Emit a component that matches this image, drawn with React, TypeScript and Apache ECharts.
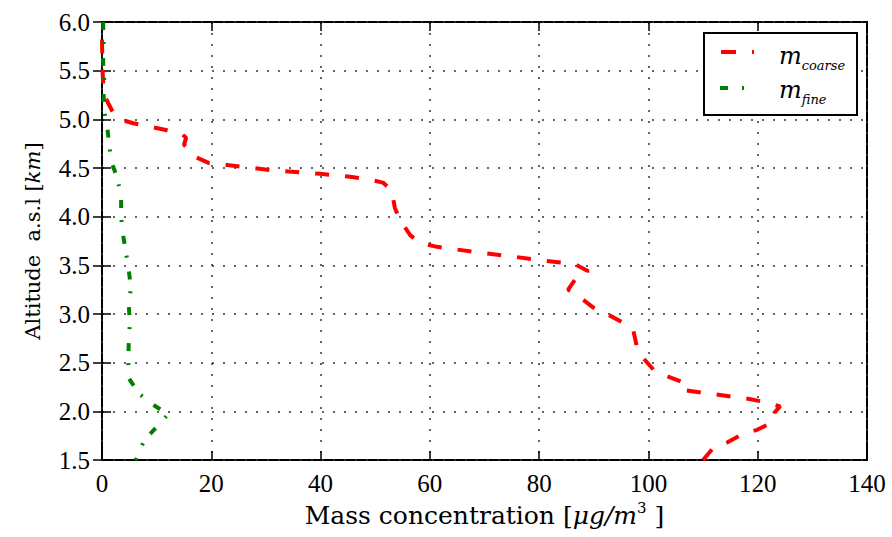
import React, { useEffect, useRef } from "react";
import * as echarts from "echarts";

// m_coarse profile: concentration (µg/m³) vs altitude (km)
const coarseConc = [0.0, 0.1, 0.3, 1.1, 2.2, 3.3, 5.7, 8.4, 11.7, 14.6, 15.4, 15.0, 17.2, 19.6, 22.9, 30.7, 39.9, 45.4, 48.1, 51.4, 53.0, 53.6, 54.5, 56.4, 58.2, 61.3, 69.2, 75.2, 80.7, 86.6, 89.0, 86.9, 85.3, 87.5, 89.8, 92.4, 95.1, 97.2, 97.9, 99.0, 101.2, 103.4, 106.7, 106.3, 110.0, 118.2, 121.7, 124.1, 123.1, 122.8, 119.9, 117.3, 114.4, 111.8, 110.0];
const coarseAlt = [5.82, 5.5, 5.27, 5.17, 5.05, 5.0, 4.96, 4.93, 4.89, 4.85, 4.81, 4.74, 4.61, 4.55, 4.53, 4.48, 4.44, 4.41, 4.39, 4.35, 4.27, 4.09, 3.97, 3.81, 3.73, 3.69, 3.63, 3.59, 3.55, 3.51, 3.44, 3.38, 3.25, 3.17, 3.07, 3.0, 2.92, 2.84, 2.66, 2.55, 2.41, 2.36, 2.29, 2.22, 2.19, 2.13, 2.09, 2.05, 1.99, 1.89, 1.81, 1.77, 1.68, 1.62, 1.5];

// m_fine profile
const fineConc = [0.2, 0.3, 0.2, 0.4, 0.3, 0.5, 1.0, 1.4, 1.8, 2.8, 3.5, 3.5, 3.8, 4.4, 4.9, 5.3, 4.9, 5.1, 4.9, 4.8, 4.9, 6.8, 9.3, 12.1, 10.0, 7.7, 6.2];
const fineAlt = [6.0, 5.8, 5.6, 5.42, 5.25, 5.06, 4.9, 4.7, 4.55, 4.4, 4.2, 4.0, 3.83, 3.63, 3.45, 3.27, 3.09, 2.91, 2.71, 2.53, 2.34, 2.18, 2.07, 1.97, 1.84, 1.7, 1.5];

const xTicks = [0, 20, 40, 60, 80, 100, 120, 140];
const yTicks = [1.5, 2.0, 2.5, 3.0, 3.5, 4.0, 4.5, 5.0, 5.5, 6.0];

const FONT = "'Liberation Serif', serif";
const TFONT = "'DejaVu Serif', serif";

export default function App() {
  const ref = useRef<HTMLDivElement>(null);
  useEffect(() => {
    if (!ref.current) return;
    const chart = echarts.init(ref.current, undefined, { renderer: "svg" });
    const zip = (xs: number[], ys: number[]) => xs.map((x, i) => [x, ys[i]]);
    const tickStyle = { inside: true, length: 9, lineStyle: { color: "#000", width: 1.5 } };
    const gridLine = { show: true, lineStyle: { color: "#333", type: [2, 9], width: 1.5 } };
    const legendRich = {
      m: { fontFamily: TFONT, fontSize: 24, fontStyle: "italic", fill: "#000", lineHeight: 30, verticalAlign: "bottom" },
      s: { fontFamily: TFONT, fontSize: 13, fontStyle: "italic", fill: "#000", lineHeight: 30, verticalAlign: "bottom", padding: [0, 0, -4, 0] },
    };
    chart.setOption({
      animation: false,
      backgroundColor: "#fff",
      grid: { left: 102, right: 25, top: 22, bottom: 77, show: true, borderColor: "#000", borderWidth: 2, backgroundColor: "transparent" },
      xAxis: [
        {
          type: "value", min: xTicks[0], max: xTicks[xTicks.length - 1], interval: 20,
          axisLine: { show: false }, axisTick: tickStyle, splitLine: gridLine,
          axisLabel: { color: "#000", fontFamily: FONT, fontSize: 25, margin: 11 },
          name: "Mass concentration [{i|μg/m}{s|3}{n| ]}", nameLocation: "middle", nameGap: 38,
          nameTextStyle: {
            color: "#000", fontFamily: TFONT, fontSize: 25, verticalAlign: "top", lineHeight: 30,
            rich: {
              i: { fontFamily: TFONT, fontSize: 25, fontStyle: "italic", color: "#000", lineHeight: 30 },
              s: { fontFamily: TFONT, fontSize: 15, color: "#000", verticalAlign: "top", lineHeight: 30 },
              n: { fontFamily: TFONT, fontSize: 25, color: "#000", lineHeight: 30 },
            },
          },
        },
        {
          type: "value", position: "top", min: xTicks[0], max: xTicks[xTicks.length - 1], interval: 20,
          axisLine: { show: false }, axisTick: tickStyle, splitLine: { show: false }, axisLabel: { show: false },
        },
      ],
      yAxis: [
        {
          type: "value", min: yTicks[0], max: yTicks[yTicks.length - 1], interval: 0.5,
          axisLine: { show: false }, axisTick: tickStyle, splitLine: gridLine,
          axisLabel: { color: "#000", fontFamily: FONT, fontSize: 25, margin: 12, formatter: (v: number) => v.toFixed(1) },
          name: "Altitude  a.s.l [{i|km}]", nameLocation: "middle", nameGap: 59, nameRotate: 90,
          nameTextStyle: {
            color: "#000", fontFamily: TFONT, fontSize: 21,
            rich: { i: { fontFamily: TFONT, fontSize: 21, fontStyle: "italic", color: "#000" } },
          },
        },
        {
          type: "value", position: "right", min: yTicks[0], max: yTicks[yTicks.length - 1], interval: 0.5,
          axisLine: { show: false }, axisTick: tickStyle, splitLine: { show: false }, axisLabel: { show: false },
        },
      ],
      series: [
        {
          name: "coarse", type: "line", xAxisIndex: 0, yAxisIndex: 0, data: zip(coarseConc, coarseAlt),
          showSymbol: false, symbol: "none", clip: true,
          lineStyle: { color: "#ff0000", width: 4, type: [14, 16] },
        },
        {
          name: "fine", type: "line", xAxisIndex: 0, yAxisIndex: 0, data: zip(fineConc, fineAlt),
          showSymbol: false, symbol: "none", clip: true,
          lineStyle: { color: "#008000", width: 4, type: [8, 12, 2, 14] },
        },
      ],
      graphic: [
        { type: "rect", shape: { x: 704, y: 33, width: 153, height: 82 }, style: { fill: "#fff", stroke: "#000", lineWidth: 2 }, z: 100 },
        { type: "line", shape: { x1: 721, y1: 52, x2: 736, y2: 52 }, style: { stroke: "#ff0000", lineWidth: 4 }, z: 101 },
        { type: "line", shape: { x1: 752, y1: 52, x2: 754, y2: 52 }, style: { stroke: "#ff0000", lineWidth: 4 }, z: 101 },
        { type: "line", shape: { x1: 720, y1: 88, x2: 728, y2: 88 }, style: { stroke: "#008000", lineWidth: 4 }, z: 101 },
        { type: "line", shape: { x1: 742, y1: 88, x2: 744, y2: 88 }, style: { stroke: "#008000", lineWidth: 4 }, z: 101 },
        {
          type: "text", x: 779, y: 38, z: 101,
          style: { text: "{m|m}{s|coarse}", verticalAlign: "top", rich: legendRich },
        },
        {
          type: "text", x: 779, y: 72, z: 101,
          style: { text: "{m|m}{s|fine}", verticalAlign: "top", rich: legendRich },
        },
      ],
    });
    return () => chart.dispose();
  }, []);
  return <div ref={ref} style={{ width: 892, height: 537, position: "absolute", left: 0, top: 0 }} />;
}
